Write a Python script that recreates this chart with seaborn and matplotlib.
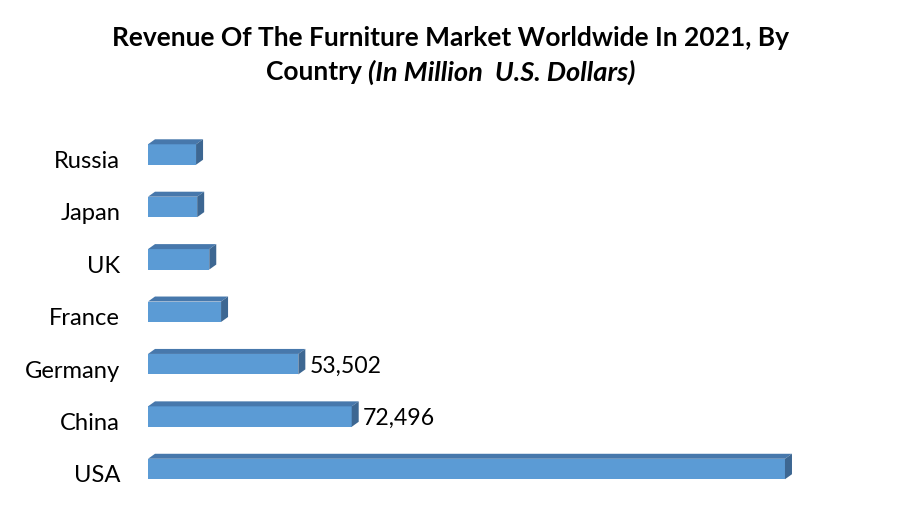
import matplotlib
matplotlib.use("Agg")
import matplotlib.pyplot as plt
import matplotlib.transforms as mtransforms
import seaborn as sns
import pandas as pd
from matplotlib.patches import Polygon

countries = ["Russia", "Japan", "UK", "France", "Germany", "China", "USA"]
revenue = [17100, 17500, 21800, 26000, 53502, 72496, 226700]
shown_labels = ["", "", "", "", "53,502", "72,496", ""]

df = pd.DataFrame({"country": countries, "revenue": revenue})

sns.set_theme(style="white")
plt.rcParams["font.family"] = ["Lato", "DejaVu Sans"]

W, H = 902, 527
fig = plt.figure(figsize=(W / 100, H / 100), dpi=100)
top_px, bot_px = 128.3, 495.2
ax = fig.add_axes([148 / W, 1 - bot_px / H, (860 - 148) / W, (bot_px - top_px) / H])

front = "#5B9BD5"
top_c = "#4778AC"
side_c = "#3D6792"

sns.barplot(data=df, y="country", x="revenue", orient="h", color=front,
            width=0.39, saturation=1, ax=ax, order=countries)
ax.set_xlim(0, 253400)
ax.set_ylim(6.5, -0.5)

# 3D depth in data units
dx_px, dy_px = 7, 5
ax_w_px = (860 - 148)
ax_h_px = bot_px - top_px
dx = dx_px * (253400 / ax_w_px)
dy = dy_px * (7.0 / ax_h_px)

for p in ax.patches:
    x0 = p.get_x()
    x1 = x0 + p.get_width()
    yt = p.get_y()
    yb = yt + p.get_height()
    p.set_edgecolor("none")
    ax.add_patch(Polygon([(x0, yt), (x1, yt), (x1 + dx, yt - dy), (x0 + dx, yt - dy)],
                         closed=True, facecolor=top_c, edgecolor="none", zorder=p.get_zorder()))
    ax.add_patch(Polygon([(x1, yt), (x1 + dx, yt - dy), (x1 + dx, yb - dy), (x1, yb)],
                         closed=True, facecolor=side_c, edgecolor="none", zorder=p.get_zorder()))

for i, (v, lab) in enumerate(zip(revenue, shown_labels)):
    if lab:
        ax.text(v + dx * 1.6, i + 0.04, lab, va="center", ha="left", fontsize=16.6, color="black")

ax.set_xlabel("")
ax.set_ylabel("")
ax.set_xticks([])
ax.tick_params(axis="y", length=0, pad=20, labelsize=17.1, labelcolor="#000000")
offset = mtransforms.ScaledTranslation(0, -7 / 100, fig.dpi_scale_trans)
for lbl in ax.get_yticklabels():
    lbl.set_va("center")
    lbl.set_transform(lbl.get_transform() + offset)
for s in ax.spines.values():
    s.set_visible(False)

tfs = 19
fig.text(0.5, 1 - 38 / H, "Revenue Of The Furniture Market Worldwide In 2021, By",
         ha="center", va="center", fontsize=tfs, fontweight="bold", color="black")
t1 = fig.text(0, 1 - 72 / H, "Country ", ha="left", va="center", fontsize=tfs,
              fontweight="bold", color="black")
t2 = fig.text(0, 1 - 72 / H, "(In Million  U.S. Dollars)", ha="left", va="center",
              fontsize=tfs + 0.6, fontweight="bold", style="italic", color="black")
fig.canvas.draw()
r = fig.canvas.get_renderer()
w1 = t1.get_window_extent(r).width
w2 = t2.get_window_extent(r).width
start = (W - (w1 + w2)) / 2
t1.set_x(start / W)
t2.set_x((start + w1) / W)

fig.savefig("out.png", dpi=100)
